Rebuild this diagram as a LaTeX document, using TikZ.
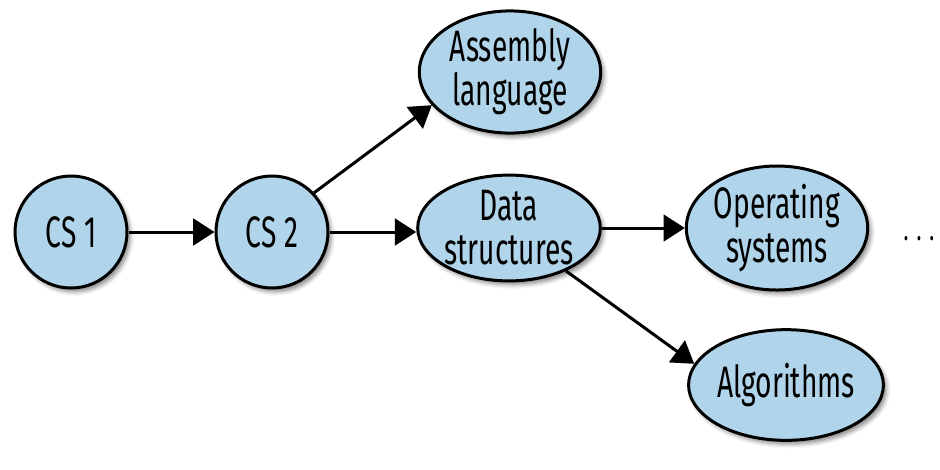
\documentclass[tikz,border=0pt]{standalone}
\usepackage{fontspec}
\setmainfont{Fira Sans}[FakeStretch=0.64]
\usetikzlibrary{arrows.meta,shapes.geometric,shadows.blur}
\definecolor{nodefill}{RGB}{176,212,234}
\tikzset{
  base/.style={draw=black, line width=2.25pt, fill=nodefill, inner sep=0pt,
    align=center, font=\fontsize{33}{33}\selectfont,
    blur shadow={shadow xshift=2.5pt, shadow yshift=-3pt, shadow blur radius=3pt, shadow opacity=45}},
  circ/.style={base, circle, minimum size=84pt},
  ell/.style={base, ellipse, minimum width=136pt, minimum height=77pt},
  conn/.style={line width=2.25pt, -{Triangle[length=16pt,width=20pt]}},
}
\begin{document}
\begin{tikzpicture}[x=0.75pt,y=-0.75pt]
\useasboundingbox (0,0) rectangle (940,469);
\node[circ] (cs1) at (71,232) {CS 1};
\node[circ] (cs2) at (272,232) {CS 2};
\node[ell] (asm) at (510,72) {Assembly\\language};
\node[ell] (ds) at (509,228) {Data\\structures};
\node[ell] (os) at (777,228) {Operating\\systems};
\node[ell, minimum width=139pt, minimum height=83pt] (alg) at (786,385) {Algorithms};
\node[font=\fontsize{24}{26}\selectfont, inner sep=0pt, anchor=base] (dots) at (919,240) {.\hspace{6pt}.\hspace{6pt}.};
\draw[conn] (cs1.east) -- (cs2.west);
\draw[conn] (cs2.east) -- (cs2.east -| ds.west);
\draw[conn] (cs2.43) -- (asm.203);
\draw[conn] (ds.east) -- (os.west);
\draw[conn] (ds.-37) -- (alg.167);
\end{tikzpicture}
\end{document}
